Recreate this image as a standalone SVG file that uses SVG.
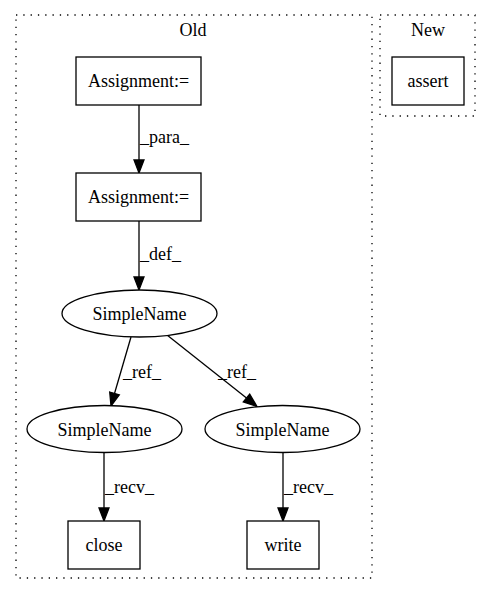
<svg xmlns="http://www.w3.org/2000/svg" width="491" height="596" viewBox="0 0 491 596" font-family="'Liberation Serif', 'Times New Roman', 'DejaVu Serif', serif" font-size="18">
<style>
text{font-family:'Liberation Serif','Times New Roman','DejaVu Serif',serif;font-size:18px;fill:#000}
.c{text-anchor:middle}
.n{fill:#fff;stroke:#000;stroke-width:1.3}
.cl{fill:none;stroke:#000;stroke-width:1.3;stroke-dasharray:1.3 6}
.e{fill:none;stroke:#000;stroke-width:1.3}
.ah{fill:#000;stroke:#000;stroke-width:1.3}
</style>
<rect width="491" height="596" fill="#fff"/>
<g id="cluster-old">
<rect class="cl" x="16" y="15" width="356" height="563"/>
<text class="c" x="193" y="36">Old</text>
</g>
<g id="cluster-new">
<rect class="cl" x="380" y="15" width="95" height="101"/>
<text class="c" x="428" y="36">New</text>
</g>
<g id="connectors">
<line class="e" x1="139" y1="105" x2="139" y2="160"/>
<polygon class="ah" points="134,160 144,160 139,173"/>
<text x="140" y="143">_para_</text>
<line class="e" x1="139" y1="221" x2="139" y2="277"/>
<polygon class="ah" points="134,277 144,277 139,290"/>
<text x="140" y="260">_def_</text>
<line class="e" x1="131" y1="337" x2="114.5" y2="393.5"/>
<polygon class="ah" points="109.7,392 119.3,394.8 111,406"/>
<text x="123" y="378">_ref_</text>
<line class="e" x1="167" y1="335" x2="246.5" y2="398"/>
<polygon class="ah" points="243.3,401.9 249.7,394.1 257,406.5"/>
<text x="218" y="378">_ref_</text>
<line class="e" x1="104" y1="452" x2="104" y2="508"/>
<polygon class="ah" points="99,508 109,508 104,521"/>
<text x="105" y="493">_recv_</text>
<line class="e" x1="283" y1="452" x2="283" y2="508"/>
<polygon class="ah" points="278,508 288,508 283,521"/>
<text x="284" y="493">_recv_</text>
</g>
<g id="assign1">
<rect class="n" x="76" y="57" width="125" height="48"/>
<text class="c" x="138.5" y="87">Assignment:=</text>
</g>
<g id="assign2">
<rect class="n" x="76" y="173" width="125" height="48"/>
<text class="c" x="138.5" y="203">Assignment:=</text>
</g>
<g id="sn-top">
<ellipse class="n" cx="139.5" cy="313.5" rx="77.5" ry="23.5"/>
<text class="c" x="139.5" y="320">SimpleName</text>
</g>
<g id="sn-left">
<ellipse class="n" cx="104.5" cy="429" rx="77.5" ry="23.5"/>
<text class="c" x="104.5" y="435.5">SimpleName</text>
</g>
<g id="sn-right">
<ellipse class="n" cx="282.5" cy="429" rx="77.5" ry="23.5"/>
<text class="c" x="282.5" y="435.5">SimpleName</text>
</g>
<g id="close">
<rect class="n" x="68" y="521" width="72" height="48"/>
<text class="c" x="104" y="551">close</text>
</g>
<g id="write">
<rect class="n" x="247" y="521" width="72" height="48"/>
<text class="c" x="283" y="551">write</text>
</g>
<g id="assert">
<rect class="n" x="392" y="57" width="72" height="48"/>
<text class="c" x="428" y="87">assert</text>
</g>
</svg>
